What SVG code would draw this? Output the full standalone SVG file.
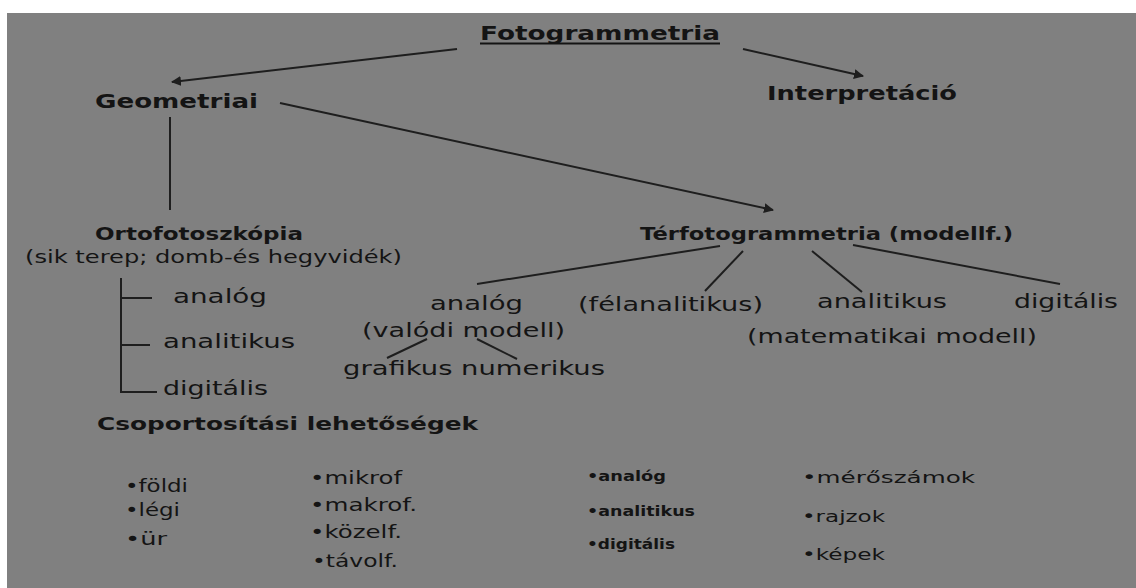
<svg xmlns="http://www.w3.org/2000/svg" width="1136" height="588" viewBox="0 0 1136 588">
<style>
text{font-family:"DejaVu Sans","Liberation Sans",Arial,sans-serif;fill:#141414}
.b{font-weight:bold}
.c{stroke:#1e1e1e;stroke-width:2;fill:none}
</style>
<defs>
<marker id="ah" viewBox="0 0 10 10" refX="9" refY="5" markerWidth="5" markerHeight="5" orient="auto" markerUnits="strokeWidth">
<path d="M0,0 L10,5 L0,10 z" fill="#1e1e1e"/>
</marker>
</defs>
<rect x="0" y="0" width="1136" height="588" fill="#ffffff"/>
<rect x="7" y="13" width="1129" height="575" fill="#808080"/>

<g id="connectors">
<line class="c" x1="457" y1="49" x2="172" y2="82" marker-end="url(#ah)"/>
<line class="c" x1="743" y1="49" x2="863" y2="76" marker-end="url(#ah)"/>
<line class="c" x1="280" y1="103" x2="773" y2="210" marker-end="url(#ah)"/>
<line class="c" x1="170" y1="117" x2="170" y2="210"/>
<path class="c" d="M121,278 V392 H157 M121,298 H152 M121,345 H150"/>
<line class="c" x1="720" y1="246" x2="477" y2="284"/>
<line class="c" x1="743" y1="251" x2="705" y2="291"/>
<line class="c" x1="812" y1="251" x2="862" y2="292"/>
<line class="c" x1="853" y1="245" x2="1060" y2="284"/>
<line class="c" x1="427" y1="339" x2="387" y2="358"/>
<line class="c" x1="477" y1="339" x2="517" y2="359"/>
</g>

<g id="fotogrammetria">
<text class="b" x="480" y="40" font-size="20" textLength="240" lengthAdjust="spacingAndGlyphs">Fotogrammetria</text>
<line x1="480" y1="43.5" x2="720" y2="43.5" stroke="#141414" stroke-width="2"/>
</g>
<g id="geometriai"><text class="b" x="95" y="108" font-size="20" textLength="163" lengthAdjust="spacingAndGlyphs">Geometriai</text></g>
<g id="interpretacio"><text class="b" x="767" y="100" font-size="20" textLength="190" lengthAdjust="spacingAndGlyphs">Interpretáció</text></g>

<g id="ortofotoszkopia">
<text class="b" x="95" y="240" font-size="17" textLength="208" lengthAdjust="spacingAndGlyphs">Ortofotoszkópia</text>
<text x="25" y="263" font-size="18" textLength="377" lengthAdjust="spacingAndGlyphs">(sik terep; domb-és  hegyvidék)</text>
</g>
<g id="orto-analog"><text x="173" y="303" font-size="20" textLength="94" lengthAdjust="spacingAndGlyphs">analóg</text></g>
<g id="orto-analitikus"><text x="163" y="348" font-size="20" textLength="132" lengthAdjust="spacingAndGlyphs">analitikus</text></g>
<g id="orto-digitalis"><text x="163" y="395" font-size="20" textLength="105" lengthAdjust="spacingAndGlyphs">digitális</text></g>

<g id="terfotogrammetria"><text class="b" x="640" y="240" font-size="17" textLength="373" lengthAdjust="spacingAndGlyphs">Térfotogrammetria  (modellf.)</text></g>
<g id="ter-analog">
<text x="430" y="310" font-size="19" textLength="93" lengthAdjust="spacingAndGlyphs">analóg</text>
<text x="362" y="337" font-size="19" textLength="203" lengthAdjust="spacingAndGlyphs">(valódi modell)</text>
</g>
<g id="grafikus-numerikus"><text x="343" y="375" font-size="19" textLength="262" lengthAdjust="spacingAndGlyphs">grafikus numerikus</text></g>
<g id="felanalitikus"><text x="578" y="311" font-size="19" textLength="185" lengthAdjust="spacingAndGlyphs">(félanalitikus)</text></g>
<g id="ter-analitikus">
<text x="817" y="308" font-size="19" textLength="130" lengthAdjust="spacingAndGlyphs">analitikus</text>
<text x="747" y="343" font-size="19" textLength="290" lengthAdjust="spacingAndGlyphs">(matematikai modell)</text>
</g>
<g id="ter-digitalis"><text x="1014" y="308" font-size="19" textLength="104" lengthAdjust="spacingAndGlyphs">digitális</text></g>

<g id="csoportositasi"><text class="b" x="97" y="430" font-size="18" textLength="381" lengthAdjust="spacingAndGlyphs">Csoportosítási lehetőségek</text></g>
<g id="list1">
<text x="125" y="492" font-size="18" textLength="63" lengthAdjust="spacingAndGlyphs">•földi</text>
<text x="125" y="516" font-size="18" textLength="55" lengthAdjust="spacingAndGlyphs">•légi</text>
<text x="125" y="545" font-size="18" textLength="42" lengthAdjust="spacingAndGlyphs">•ür</text>
</g>
<g id="list2">
<text x="310" y="484" font-size="18" textLength="92" lengthAdjust="spacingAndGlyphs">•mikrof</text>
<text x="310" y="511" font-size="18" textLength="107" lengthAdjust="spacingAndGlyphs">•makrof.</text>
<text x="310" y="538" font-size="18" textLength="92" lengthAdjust="spacingAndGlyphs">•közelf.</text>
<text x="312" y="567" font-size="18" textLength="86" lengthAdjust="spacingAndGlyphs">•távolf.</text>
</g>
<g id="list3">
<text class="b" x="587" y="481" font-size="14" textLength="79" lengthAdjust="spacingAndGlyphs">•analóg</text>
<text class="b" x="587" y="516" font-size="14" textLength="108" lengthAdjust="spacingAndGlyphs">•analitikus</text>
<text class="b" x="587" y="549" font-size="14" textLength="88" lengthAdjust="spacingAndGlyphs">•digitális</text>
</g>
<g id="list4">
<text x="802" y="483" font-size="16" textLength="173" lengthAdjust="spacingAndGlyphs">•mérőszámok</text>
<text x="802" y="522" font-size="16" textLength="83" lengthAdjust="spacingAndGlyphs">•rajzok</text>
<text x="802" y="560" font-size="16" textLength="83" lengthAdjust="spacingAndGlyphs">•képek</text>
</g>
</svg>
